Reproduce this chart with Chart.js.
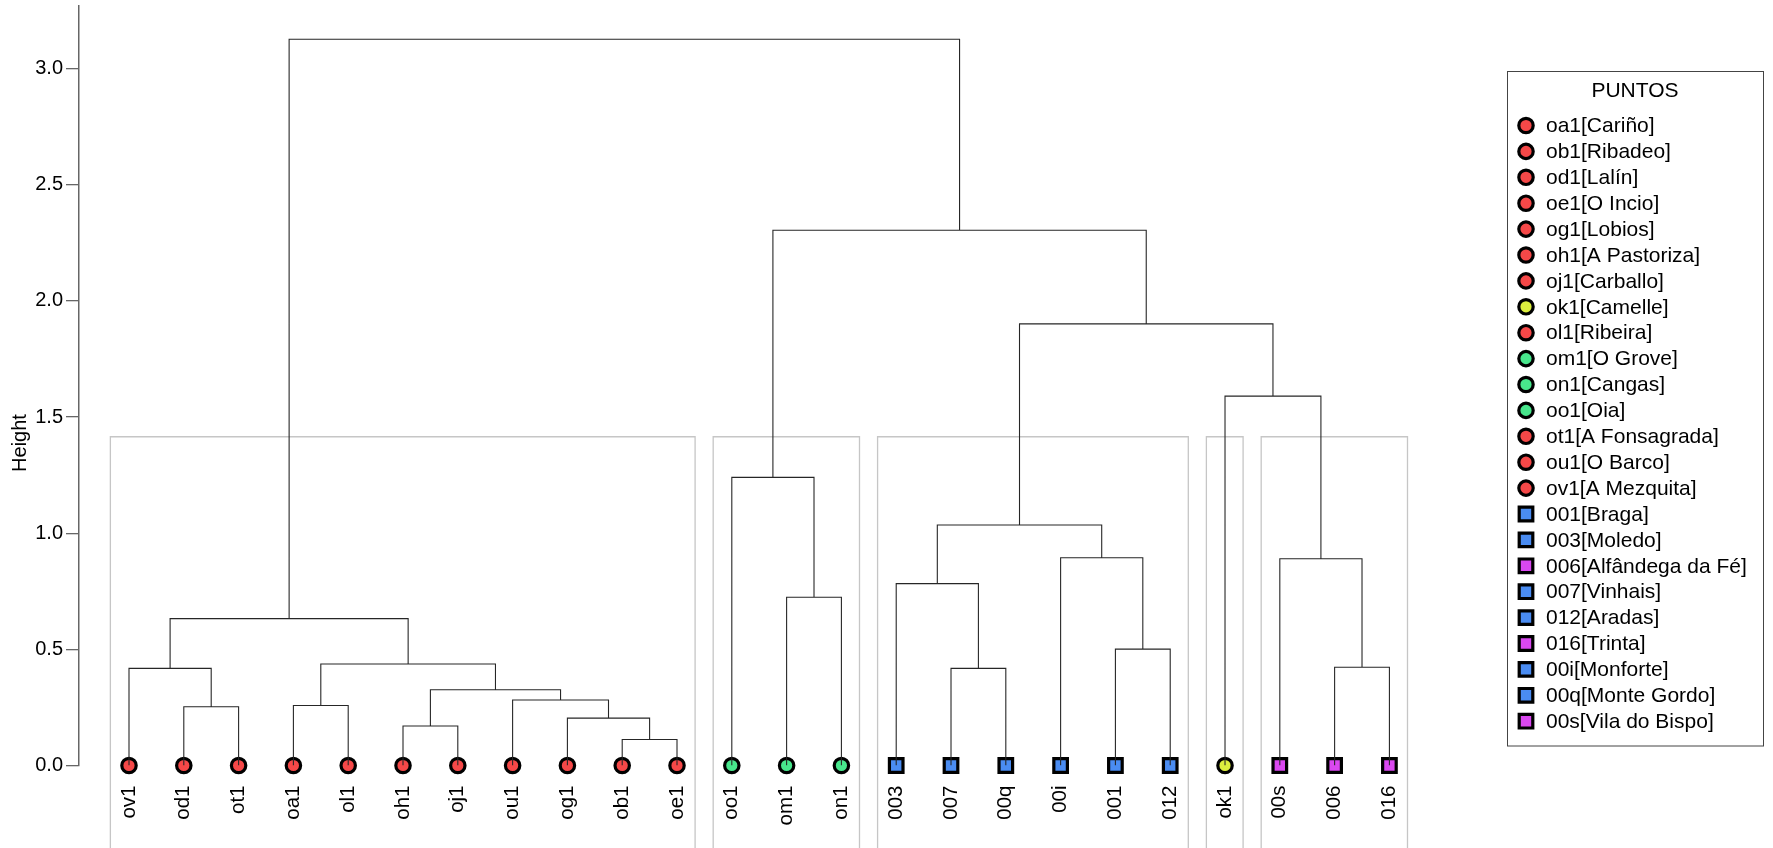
<!DOCTYPE html>
<html lang="es">
<head>
<meta charset="UTF-8">
<title>Dendrograma de puntos</title>
<script src="https://cdn.jsdelivr.net/npm/chart.js"></script>
<style>
  html, body { margin: 0; padding: 0; background: #fff; }
  canvas { display: block; }
</style>
</head>
<body>
<canvas id="dendro" width="1773" height="848"></canvas>
<script>
// hojas en el orden en que aparecen en el dendrograma
const leafCodes = ['ov1','od1','ot1','oa1','ol1','oh1','oj1','ou1','og1','ob1','oe1',
                   'oo1','om1','on1','003','007','00q','00i','001','012','ok1','00s','006','016'];

// fusiones estilo hclust: negativo = hoja (posición), positivo = fusión anterior
const mergeA = [-10, -6, -9, -2, -4, -8, 2, -1, -16, -23, 5, -19, 8, -13, -15, -22, -18, 15, -12, -21, 18, 19, 13];
const mergeB = [-11, -7,  1, -3, -5,  3, 6,  4, -17, -24, 7, -20, 11, -14,  9,  10,  12, 17,  14,  16, 20, 21, 22];
const mergeHeight = [0.112, 0.170, 0.204, 0.253, 0.258, 0.282, 0.326, 0.418, 0.418, 0.423, 0.437, 0.501,
                     0.632, 0.724, 0.783, 0.890, 0.894, 1.035, 1.240, 1.590, 1.901, 2.304, 3.126];
const nClusters = 5;

const yTicks = [0, 0.5, 1.0, 1.5, 2.0, 2.5, 3.0];

// leyenda
const legendCodes = ['oa1','ob1','od1','oe1','og1','oh1','oj1','ok1','ol1','om1','on1','oo1','ot1','ou1','ov1',
                     '001','003','006','007','012','016','00i','00q','00s'];
const legendPlaces = ['Cariño','Ribadeo','Lalín','O Incio','Lobios','A Pastoriza','Carballo','Camelle','Ribeira',
                      'O Grove','Cangas','Oia','A Fonsagrada','O Barco','A Mezquita',
                      'Braga','Moledo','Alfândega da Fé','Vinhais','Aradas','Trinta','Monforte','Monte Gordo','Vila do Bispo'];
const legendGroup = [0,0,0,0,0,0,0,1,0,2,2,2,0,0,0, 3,3,4,3,3,4,3,3,4];
const groupColor = ['#F54848', '#DCEE3E', '#48E68C', '#4A8CF2', '#DA48F0'];
const groupShape = ['circle', 'circle', 'circle', 'rect', 'rect'];

const FONT = "'Liberation Sans', Arial, sans-serif";
Chart.defaults.font.family = FONT;

// posiciones y alturas de cada nodo
function nodePos(k) { return k < 0 ? -k : mergePos[k - 1]; }
function nodeH(k) { return k < 0 ? 0 : mergeHeight[k - 1]; }
const mergePos = [];
mergeA.forEach((a, i) => { mergePos.push((nodePos(a) + nodePos(mergeB[i])) / 2); });

const treePts = [];
mergeA.forEach((a, i) => {
  const b = mergeB[i], h = mergeHeight[i];
  treePts.push({x: nodePos(a), y: nodeH(a)}, {x: nodePos(a), y: h},
               {x: nodePos(b), y: h}, {x: nodePos(b), y: nodeH(b)}, {x: nodePos(b), y: null});
});

// rectángulos de los grupos (corte en k grupos)
const sortedH = mergeHeight.slice().sort((p, q) => q - p);
const cutH = (sortedH[nClusters - 2] + sortedH[nClusters - 1]) / 2;
function leafRange(k) {
  if (k < 0) return [-k, -k];
  const ra = leafRange(mergeA[k - 1]), rb = leafRange(mergeB[k - 1]);
  return [Math.min(ra[0], rb[0]), Math.max(ra[1], rb[1])];
}
const groups = [];
(function collect(k) {
  if (k < 0 || nodeH(k) < cutH) { groups.push(leafRange(k)); return; }
  collect(mergeA[k - 1]); collect(mergeB[k - 1]);
})(mergeA.length);
const boxPts = [];
groups.forEach(([lo, hi]) => {
  const l = lo - 0.34, r = hi + 0.33;
  boxPts.push({x: l, y: -0.45}, {x: l, y: cutH}, {x: r, y: cutH}, {x: r, y: -0.45}, {x: r, y: null});
});

const leafGroup = leafCodes.map(c => legendGroup[legendCodes.indexOf(c)]);

function drawSymbol(ctx, shape, x, y, fill) {
  ctx.beginPath();
  if (shape === 'circle') ctx.arc(x, y, 7.2, 0, Math.PI * 2);
  else ctx.rect(x - 6.8, y - 6.8, 13.6, 13.6);
  ctx.fillStyle = fill; ctx.fill();
  ctx.lineWidth = 3.2; ctx.strokeStyle = '#000'; ctx.stroke();
}

const extras = {
  id: 'extras',
  afterDraw(chart) {
    const ctx = chart.ctx;
    ctx.save();
    // título del eje y
    ctx.translate(20, 443);
    ctx.rotate(-Math.PI / 2);
    ctx.font = '20px ' + FONT;
    ctx.fillStyle = '#000';
    ctx.textAlign = 'center';
    ctx.textBaseline = 'middle';
    ctx.fillText('Height', 0, 0);
    ctx.restore();

    // leyenda
    ctx.save();
    ctx.strokeStyle = '#444';
    ctx.lineWidth = 1;
    ctx.strokeRect(1507.5, 71.5, 256, 674.5);
    ctx.font = '21px ' + FONT;
    ctx.fillStyle = '#000';
    ctx.textAlign = 'center';
    ctx.textBaseline = 'middle';
    ctx.fillText('PUNTOS', 1635, 91);
    legendCodes.forEach((code, i) => {
      const y = 125.5 + i * 25.9;
      const g = legendGroup[i];
      drawSymbol(ctx, groupShape[g], 1526, y, groupColor[g]);
      ctx.fillStyle = '#000';
      ctx.textAlign = 'left';
      ctx.fillText(code + '[' + legendPlaces[i] + ']', 1546, y + 1);
    });
    ctx.restore();
  }
};

new Chart(document.getElementById('dendro'), {
  type: 'line',
  data: {
    datasets: [
      {
        data: treePts, borderColor: '#262626', borderWidth: 1.1, pointRadius: 0,
        spanGaps: false, order: 1
      },
      {
        data: boxPts, borderColor: '#C6C6C6', borderWidth: 1.3, pointRadius: 0,
        spanGaps: false, clip: false, order: 3
      },
      {
        data: leafCodes.map((c, i) => ({x: i + 1, y: 0})),
        showLine: false, clip: false, order: 2,
        pointStyle: leafGroup.map(g => groupShape[g]),
        pointRadius: leafGroup.map(g => groupShape[g] === 'rect' ? 9.6 : 7.2),
        pointBackgroundColor: leafGroup.map(g => groupColor[g]),
        pointBorderColor: '#000', pointBorderWidth: 3.2
      }
    ]
  },
  options: {
    responsive: false,
    animation: false,
    events: [],
    layout: { autoPadding: false, padding: { top: 6, right: 293, bottom: 0, left: 0 } },
    plugins: { legend: { display: false }, tooltip: { enabled: false } },
    scales: {
      x: {
        type: 'linear', min: 0.0876, max: 25.653,
        afterBuildTicks: s => { s.ticks = leafCodes.map((c, i) => ({value: i + 1})); },
        afterFit: s => { s.height = 82.5; s.paddingLeft = 0; s.paddingRight = 0; },
        grid: { display: false, drawTicks: false },
        border: { display: false },
        ticks: {
          autoSkip: false, minRotation: 90, maxRotation: 90, padding: 20,
          color: '#000', font: { size: 20.5 },
          callback: v => leafCodes[Math.round(v) - 1]
        }
      },
      y: {
        min: 0, max: 3.269,
        afterBuildTicks: s => { s.ticks = yTicks.map(v => ({value: v})); },
        afterFit: s => { s.width = 79; s.paddingTop = 0; s.paddingBottom = 0; },
        grid: { drawOnChartArea: false, tickLength: 13, color: '#666', lineWidth: 1.3 },
        border: { display: true, color: '#666', width: 1.5 },
        ticks: {
          padding: 3, color: '#000', font: { size: 20, lineHeight: 0.5 },
          callback: v => v.toFixed(1)
        }
      }
    }
  },
  plugins: [extras]
});
</script>
</body>
</html>
